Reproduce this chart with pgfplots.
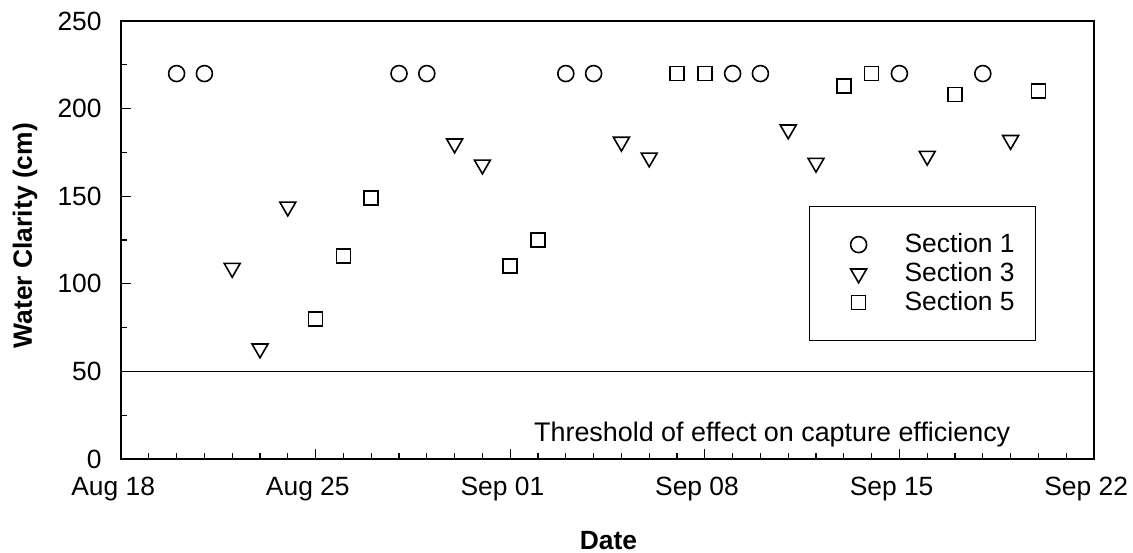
\documentclass[border=0pt]{standalone}
\usepackage{fontspec}
\setmainfont{Liberation Sans}
\usepackage{pgfplots}
\pgfplotsset{compat=1.18}
\newcommand{\tf}{\fontsize{13.2}{15.5}\selectfont}
\begin{document}
\begin{tikzpicture}
\begin{axis}[
  scale only axis,
  width=486.5pt, height=219pt,
  xmin=0, xmax=35, ymin=0, ymax=250,
  axis line style={line width=0.8pt},
  tick style={line width=0.6pt, black},
  tick align=inside,
  tick pos=left,
  major tick length=5pt, minor tick length=3pt,
  xtick={0,7,14,21,28,35},
  xticklabels={Aug 18,Aug 25,Sep 01,Sep 08,Sep 15,Sep 22},
  minor x tick num=6,
  ytick={0,50,...,250},
  minor y tick num=1,
  /pgf/number format/assume math mode=true,
  xticklabel style={font=\tf, inner sep=0pt, anchor=base, yshift=-18.35pt, xshift=-3.9pt},
  yticklabel style={font=\tf, inner sep=0pt, xshift=-9.5pt},
  xlabel={Date},
  ylabel={Water Clarity (cm)},
  xlabel style={font=\tf\bfseries, at={(axis description cs:0.501,-0.2055)}, anchor=base},
  ylabel style={font=\tf\bfseries, at={(axis description cs:-0.0917,0.51)}, anchor=base},
  legend image code/.code={\pgfpathrectangle{\pgfpoint{-14pt}{-6pt}}{\pgfpoint{20pt}{12pt}}\pgfusepath{use as bounding box}\draw[#1] plot coordinates {(0pt,0pt)};},
  legend cell align=left,
  legend style={at={(rel axis cs:0.7071,0.5776)}, anchor=north west, draw=black, line width=0.6pt,
    inner xsep=10.5pt, inner ysep=13pt, row sep=2.5pt, column sep=17pt, font=\tf,
    nodes={inner sep=0pt}},
]
\addplot[only marks, mark=o, mark size=4pt, mark options={line width=0.8pt, black}] coordinates {
(2,220) (3,220) (10,220) (11,220) (16,220) (17,220) (22,220) (23,220) (28,220) (31,220)};
\addlegendentry{Section 1}
\addplot[only marks, mark=triangle, mark size=4.6pt, mark options={line width=0.8pt, black, rotate=180}] coordinates {
(4,109) (5,63) (6,144) (12,180) (13,168) (18,181) (19,172) (24,188) (25,169) (29,173) (32,182)};
\addlegendentry{Section 3}
\addplot[only marks, mark=square, mark size=3.5pt, mark options={line width=0.8pt, black}] coordinates {
(7,80) (8,116) (9,149) (14,110) (15,125) (20,220) (21,220) (26,213) (27,220) (30,208) (33,210)};
\addlegendentry{Section 5}
\addplot[black, line width=0.8pt, forget plot] coordinates {(0,50) (35,50)};
\node[anchor=base east, inner sep=0pt, font=\fontsize{13.45}{15.5}\selectfont] at (axis cs:32,10) {Threshold of effect on capture efficiency};
\end{axis}
\pgfresetboundingbox
\path ([shift={(-60.5pt,-46.5pt)}]current axis.south west) rectangle ([shift={(19.5pt,10.5pt)}]current axis.north east);
\end{tikzpicture}
\end{document}
